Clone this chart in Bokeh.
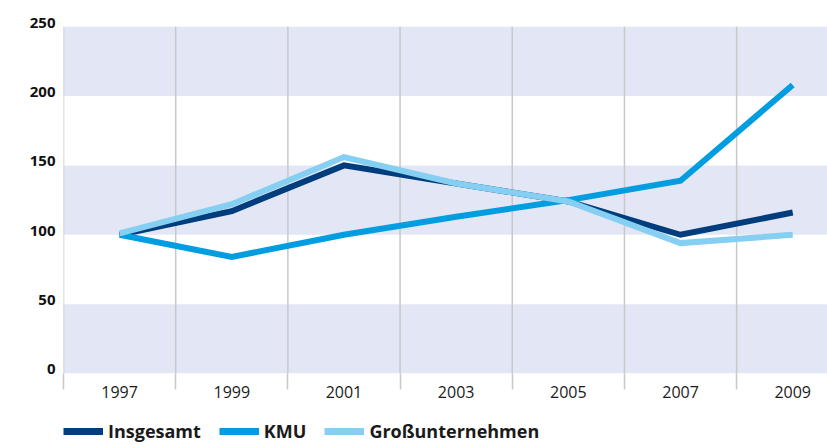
from bokeh.plotting import figure
from bokeh.layouts import column
from bokeh.models import Range1d, FixedTicker, BoxAnnotation, Legend, LegendItem
from bokeh.embed import file_html
from bokeh.resources import INLINE

years = ["1997", "1999", "2001", "2003", "2005", "2007", "2009"]
insgesamt = [100, 117, 150, 137, 124, 100, 116]
kmu = [100, 84, 100, 113, 125, 139, 208]
gross = [101, 122, 156, 137, 124, 94, 100]
y_ticks = [0, 50, 100, 150, 200, 250]
y_tick_labels = ["0", "50", "100", "150", "200", "250"]
series_names = ["Insgesamt", "KMU", "Großunternehmen"]
series_colors = ["#003d7c", "#009ee0", "#84cff2"]

FONT = "Open Sans"
x = [i + 0.5 for i in range(len(years))]
bounds = list(range(len(years)))
shift = 3  # labels sit slightly above their band edge

p = figure(width=827, height=410, output_backend="svg", toolbar_location=None,
           x_range=Range1d(0, 6.81), y_range=Range1d(y_ticks[0], y_ticks[-1] + shift),
           min_border_left=63, min_border_right=0, min_border_top=22, min_border_bottom=37)
p.outline_line_color = None
p.background_fill_color = "white"

# shaded bands
for i in range(0, len(y_ticks) - 1, 2):
    p.add_layout(BoxAnnotation(bottom=y_ticks[i], top=y_ticks[i + 1], fill_color="#e3e6f5",
                               fill_alpha=1.0, line_color=None, level="image"))

p.grid.grid_line_color = None
# vertical separators
p.segment(x0=bounds, y0=y_ticks[0], x1=bounds, y1=y_ticks[-1],
          line_color="#c8c8c8", line_width=1.5)

# x axis
p.xaxis.ticker = FixedTicker(ticks=x, minor_ticks=bounds)
p.xaxis.major_label_overrides = {xv: yr for xv, yr in zip(x, years)}
p.xaxis.axis_line_color = None
p.xaxis.major_tick_line_color = None
p.xaxis.major_tick_out = 0
p.xaxis.minor_tick_in = 0
p.xaxis.minor_tick_out = 16
p.xaxis.minor_tick_line_color = "#c8c8c8"
p.xaxis.minor_tick_line_width = 1.5
p.xaxis.major_label_standoff = -4
p.xaxis.major_label_text_font = FONT
p.xaxis.major_label_text_font_size = "16px"
p.xaxis.major_label_text_color = "#1a1a1a"

# y axis
p.yaxis.ticker = FixedTicker(ticks=[v + shift for v in y_ticks])
p.yaxis.major_label_overrides = {v + shift: lab for v, lab in zip(y_ticks, y_tick_labels)}
p.yaxis.axis_line_color = None
p.yaxis.major_tick_line_color = None
p.yaxis.minor_tick_line_color = None
p.yaxis.major_tick_out = 0
p.yaxis.major_label_standoff = 8
p.yaxis.major_label_text_font = FONT
p.yaxis.major_label_text_font_size = "15px"
p.yaxis.major_label_text_font_style = "bold"
p.yaxis.major_label_text_color = "#111111"

series = [insgesamt, kmu, gross]
for vals, col in zip(series, series_colors):
    p.line(x, vals, line_color=col, line_width=6, line_join="miter")

# legend strip below the chart (its lines lie outside its visible range)
pl = figure(width=827, height=35, output_backend="svg", toolbar_location=None,
            x_range=Range1d(0, 1), y_range=Range1d(0, 1),
            x_axis_location=None, y_axis_location=None, min_border=0)
pl.outline_line_color = None
pl.grid.visible = False
items = []
for name, vals, col in zip(series_names, series, series_colors):
    r = pl.line(x=x, y=vals, line_color=col, line_width=7)
    items.append(LegendItem(label=name, renderers=[r]))
legend = Legend(items=items, orientation="horizontal", location=(0, 2), margin=0, padding=0,
                spacing=18, glyph_width=40, glyph_height=20, label_standoff=5,
                label_text_font=FONT, label_text_font_size="18px", label_text_font_style="bold",
                label_text_color="#1a1a1a", background_fill_alpha=0, border_line_color=None)
pl.add_layout(legend, "center")

layout = column(p, pl, spacing=0)
open("out.html", "w").write(file_html(layout, INLINE))
